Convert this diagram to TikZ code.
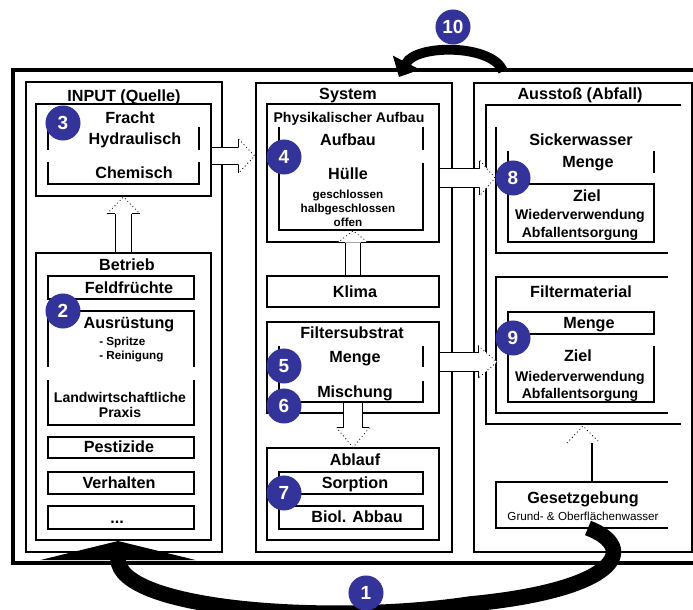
\documentclass[tikz,border=0pt]{standalone}
\usepackage{fontspec}
\setmainfont{Liberation Sans}
\usetikzlibrary{calc,positioning,arrows.meta}
\definecolor{badgeblue}{RGB}{51,51,153}
\tikzset{
  outerframe/.style={draw=black, line width=2.5pt},
  panel/.style={rectangle, draw=black, line width=1.8pt, inner sep=0pt},
  grpbox/.style={rectangle, draw=black, line width=1.4pt, inner sep=0pt},
  midbox/.style={rectangle, draw=black, line width=1.1pt, inner sep=0pt},
  box/.style={rectangle, draw=black, line width=0.8pt, inner sep=0pt},
  openbox/.style={draw=black, line width=0.8pt},
  bigtxt/.style={font=\fontsize{11.5}{13}\selectfont\bfseries, inner sep=0pt, text height=1.38ex, text depth=0pt},
  midtxt/.style={font=\fontsize{10}{12}\selectfont\bfseries, inner sep=0pt, text height=1.38ex, text depth=0pt},
  smalltxt/.style={font=\fontsize{8.3}{10}\selectfont\bfseries, inner sep=0pt, text height=1.38ex, text depth=0pt},
  notetxt/.style={font=\fontsize{8.3}{10}\selectfont, inner sep=0pt, text height=1.38ex, text depth=0pt},
  badge/.style={circle, fill=badgeblue, text=white, minimum size=0.875cm, inner sep=0pt, font=\fontsize{13.5}{14}\selectfont\bfseries},
  bigarrow/.style={line width=11pt, -{Triangle[length=13.5pt, width=110pt]}},
  looparrow/.style={line width=7pt, -{Triangle[length=11.5pt, width=21pt]}},
}
% hollow arrow: start, tip, shaft gap, head length, head half width
\newcommand{\hollowarrow}[5]{%
  \path ($(#2)!#4!(#1)$) coordinate (ha-base);
  \draw[line width=0.7pt, double=white, double distance=#3] (#1) -- (ha-base);
  \fill[white] ($(ha-base)!#5!90:(#2)$) -- (#2) -- ($(ha-base)!#5!-90:(#2)$) -- cycle;
  \draw[line width=0.7pt] ($(ha-base)!#3/2+0.35pt!90:(#2)$) -- ($(ha-base)!#5!90:(#2)$)
    ($(ha-base)!#3/2+0.35pt!-90:(#2)$) -- ($(ha-base)!#5!-90:(#2)$);
  \draw[line width=0.6pt, dotted] ($(ha-base)!#5!90:(#2)$) -- (#2) -- ($(ha-base)!#5!-90:(#2)$);
}

\begin{document}
\begin{tikzpicture}[x=0.025cm, y=-0.025cm]
  \useasboundingbox (0,0) rectangle (693,610);
  \draw[outerframe] (13,70) rectangle (705,563);

  %panels
  \node[panel, minimum width=4.9cm, minimum height=11.75cm] (inp) at (124,317) {};
  \node[panel, minimum width=4.9cm, minimum height=11.725cm] (sys) at (354,317.5) {};
  \node[panel, minimum width=5.45cm, minimum height=11.725cm] (aus) at (583,317.5) {};

  %input
  \node[grpbox, minimum width=4.375cm, minimum height=2.3cm] (fracht) at (123.5,150) {};
  \draw[openbox] (48,127) -- (48,150) (199,127) -- (199,150);
  \draw[openbox] (48,162) |- (199,184) -- (199,162);
  \node[grpbox, minimum width=4.375cm, minimum height=7.175cm] (betrieb) at (123.5,396.5) {};
  \node[box, minimum width=3.65cm, minimum height=0.575cm] (feld) at (121,287.5) {};
  \draw[openbox] (48,367) |- (194,311) -- (194,367);
  \draw[openbox] (48,380) |- (194,425) -- (194,380);
  \node[box, minimum width=3.65cm, minimum height=0.525cm] (pest) at (121,447.5) {};
  \node[box, minimum width=3.65cm, minimum height=0.55cm] (verh) at (121,483) {};
  \node[box, minimum width=3.65cm, minimum height=0.575cm] (more) at (121,517.5) {};

  %system
  \node[midbox, minimum width=4.3cm, minimum height=3.45cm] (phys) at (353,173) {};
  \draw[openbox] (279,127) |- (423,230) -- (423,163) (423,127) -- (423,150);
  \node[box, minimum width=4.3cm, minimum height=0.775cm] (klima) at (353,291.5) {};
  \node[box, minimum width=4.3cm, minimum height=2.275cm] (filt) at (353,367.5) {};
  \draw[openbox] (279,346) |- (423,402) -- (423,381) (423,346) -- (423,367);
  \node[box, minimum width=4.3cm, minimum height=2.3cm] (ablauf) at (353,494) {};
  \node[box, minimum width=3.6cm, minimum height=0.55cm] (sorp) at (351,483) {};
  \node[box, minimum width=3.6cm, minimum height=0.575cm] (biol) at (351,517.5) {};

  %ausstoss
  \draw[openbox] (681,105) -| (486,424) -- (681,424);
  \draw[openbox] (496,127) |- (668,253);
  \draw[openbox] (508,151) -- (508,173) (654,151) -- (654,173);
  \node[box, minimum width=3.65cm, minimum height=1.45cm] (zielS) at (581,213) {};
  \draw[openbox] (668,277) -| (496,413) -- (668,413);
  \node[box, minimum width=3.65cm, minimum height=0.55cm] (mengeF) at (581,323) {};
  \draw[openbox] (508,346) |- (654,402) -- (654,346);
  \draw[openbox] (668,482) -| (496,528) -- (668,528);

  %hollow arrows
  \coordinate (a1s) at (fracht.east |- 0,156);
  \coordinate (a1t) at (sys.west |- 0,156);
  \coordinate (a8s) at (phys.east |- 0,178);
  \coordinate (a8t) at (495,178);
  \coordinate (a9s) at (filt.east |- 0,362);
  \coordinate (a9t) at (497,362);
  \coordinate (kt) at ($(phys.south)+(0,-12)$);
  \coordinate (fs) at ($(filt.south)+(0,-11)$);
  \hollowarrow{a1s}{a1t}{12pt}{11.4pt}{12pt}
  \hollowarrow{betrieb.north}{fracht.south}{11pt}{12pt}{11.7pt}
  \hollowarrow{klima.north}{kt}{10.5pt}{8.5pt}{11pt}
  \hollowarrow{fs}{ablauf.north}{12.5pt}{14pt}{11.7pt}
  \hollowarrow{a8s}{a8t}{13pt}{10.7pt}{12.4pt}
  \hollowarrow{a9s}{a9t}{12.5pt}{13.5pt}{11.7pt}

  \coordinate (gtop) at (592,482);
  \coordinate (gbase) at (592,443);
  \coordinate (gtip) at (583,426);
  \draw[openbox] (gtop) -- (gbase);
  \draw[line width=0.6pt, dotted] ($(gtip)+(-16,17)$) -- (gtip) -- ($(gtip)+(17,17)$);

  %texts input
  \node[bigtxt] (tin) at (124,96) {INPUT (Quelle)};
  \node[bigtxt] (tfr) at (130,118) {Fracht};
  \node[bigtxt] (thy) at (135,139) {Hydraulisch};
  \node[bigtxt] (tch) at (134,173) {Chemisch};
  \node[bigtxt] (tbe) at (127,265) {Betrieb};
  \node[bigtxt] (tfe) at (129,288) {Feldfrüchte};
  \node[bigtxt] (tau) at (129,323) {Ausrüstung};
  \node[smalltxt, anchor=west] (tsp) at (99,340) {- Spritze};
  \node[smalltxt, anchor=west] (tre) at (99,354) {- Reinigung};
  \node[midtxt] (tla) at (120,397) {Landwirtschaftliche};
  \node[midtxt] (tpr) at (120,412) {Praxis};
  \node[bigtxt] (tpe) at (119,447) {Pestizide};
  \node[bigtxt] (tve) at (119,483) {Verhalten};
  \node[bigtxt] (tdo) at (117,518) {...};

  %texts system
  \node[bigtxt] (tsy) at (348,94) {System};
  \node[midtxt] (tph) at (349,117) {Physikalischer Aufbau};
  \node[bigtxt] (tab) at (348,140) {Aufbau};
  \node[bigtxt] (thu) at (348,174) {Hülle};
  \node[smalltxt] (tge) at (348,193) {geschlossen};
  \node[smalltxt] (tha) at (348,207) {halbgeschlossen};
  \node[smalltxt] (tof) at (348,221) {offen};
  \node[bigtxt] (tkl) at (355,292) {Klima};
  \node[bigtxt] (tfi) at (352,333) {Filtersubstrat};
  \node[bigtxt] (tme) at (355,357) {Menge};
  \node[bigtxt] (tmi) at (355,392) {Mischung};
  \node[bigtxt] (tal) at (355,460) {Ablauf};
  \node[bigtxt] (tso) at (355,483) {Sorption};
  \node[bigtxt] (tbi) at (357,517) {Biol. Abbau};

  %texts ausstoss
  \node[bigtxt] (tas) at (580,94) {Ausstoß (Abfall)};
  \node[bigtxt] (tsi) at (581,140) {Sickerwasser};
  \node[bigtxt] (tms) at (588,162) {Menge};
  \node[bigtxt] (tzs) at (587,196) {Ziel};
  \node[midtxt] (tws) at (580,214) {Wiederverwendung};
  \node[midtxt] (tes) at (580,232) {Abfallentsorgung};
  \node[bigtxt] (tft) at (581,292) {Filtermaterial};
  \node[bigtxt] (tmf) at (589,323) {Menge};
  \node[bigtxt] (tzf) at (578,356) {Ziel};
  \node[midtxt] (twf) at (580,376) {Wiederverwendung};
  \node[midtxt] (tef) at (580,393) {Abfallentsorgung};
  \node[bigtxt] (tgz) at (583,498) {Gesetzgebung};
  \node[notetxt] (tgw) at (583,515) {Grund- \& Oberflächenwasser};

  %feedback arrows
  \coordinate (g1) at (588,528);
  \coordinate (r10) at (503,71);
  \coordinate (l10) at (399,77);
  \draw[bigarrow] (g1) .. controls (640,548) and (618,590) .. (470,604)
    .. controls (330,625) and (118,610) .. (betrieb.south -| 118,0);
  \draw[looparrow] (r10) .. controls (492,44) and (416,44) .. (l10);

  %badges
  \node[badge] (b1) at (366,593) {1};
  \node[badge] (b2) at (63,311) {2};
  \node[badge] (b3) at (63,123) {3};
  \node[badge] (b4) at (284,157) {4};
  \node[badge] (b5) at (284,366) {5};
  \node[badge] (b6) at (284,406) {6};
  \node[badge] (b7) at (284,493) {7};
  \node[badge] (b8) at (513,178) {8};
  \node[badge] (b9) at (513,338) {9};
  \node[badge] (b10) at (453,27) {10};
\end{tikzpicture}
\end{document}
